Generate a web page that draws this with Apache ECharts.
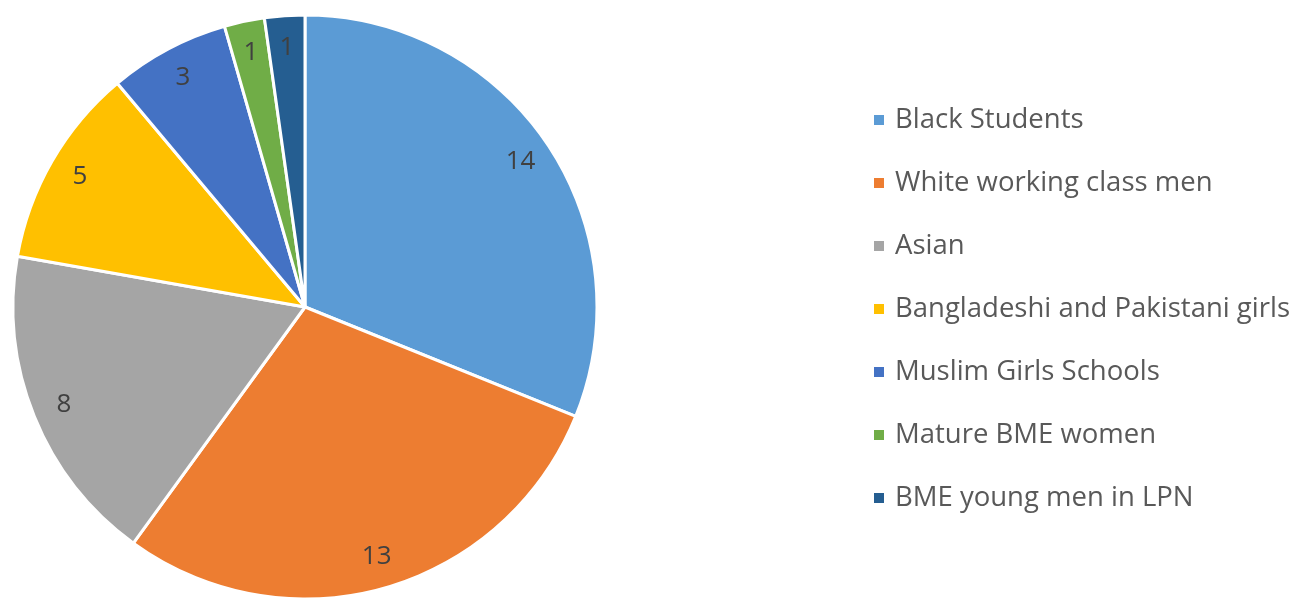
<!DOCTYPE html>
<html>
<head>
<meta charset="utf-8">
<script src="https://cdn.jsdelivr.net/npm/echarts@6/dist/echarts.min.js"></script>
<style>
  html, body { margin: 0; padding: 0; background: #fff; }
  #chart { width: 1304px; height: 608px; }
</style>
</head>
<body>
<div id="chart"></div>
<script>
// groups and counts
var groups = ['Black Students', 'White working class men', 'Asian',
  'Bangladeshi and Pakistani girls', 'Muslim Girls Schools',
  'Mature BME women', 'BME young men in LPN']
var counts = [14, 13, 8, 5, 3, 1, 1]
var colors = ['#5B9BD5', '#ED7D31', '#A5A5A5', '#FFC000', '#4472C4', '#70AD47', '#255E91']

var pieData = groups.map(function (name, i) {
  return { name: name, value: counts[i] }
})

var chart = echarts.init(document.getElementById('chart'))
chart.setOption({
  animation: false,
  color: colors,
  legend: {
    orient: 'vertical',
    left: 867,
    top: 100,
    icon: 'rect',
    itemWidth: 12,
    itemHeight: 12,
    itemGap: 33,
    data: groups,
    textStyle: {
      fontFamily: 'Open Sans',
      fontSize: 27.5,
      lineHeight: 30,
      color: '#595959',
      padding: [0, 0, 0, 5]
    }
  },
  series: [{
    type: 'pie',
    center: [305, 307],
    radius: [0, 292],
    startAngle: 90,
    clockwise: true,
    data: pieData,
    itemStyle: { borderColor: '#fff', borderWidth: 3 },
    label: { show: false },
    labelLine: { show: false },
    emphasis: { disabled: true }
  }, {
    // transparent ring only used to place the value labels near the rim
    type: 'pie',
    center: [305, 307],
    radius: [222, 292],
    startAngle: 90,
    clockwise: true,
    silent: true,
    data: pieData,
    itemStyle: { color: 'transparent', borderWidth: 0 },
    label: {
      show: true,
      position: 'inside',
      formatter: '{c}',
      fontFamily: 'Open Sans',
      fontSize: 26,
      color: '#404040'
    },
    labelLine: { show: false },
    emphasis: { disabled: true }
  }]
})
</script>
</body>
</html>
